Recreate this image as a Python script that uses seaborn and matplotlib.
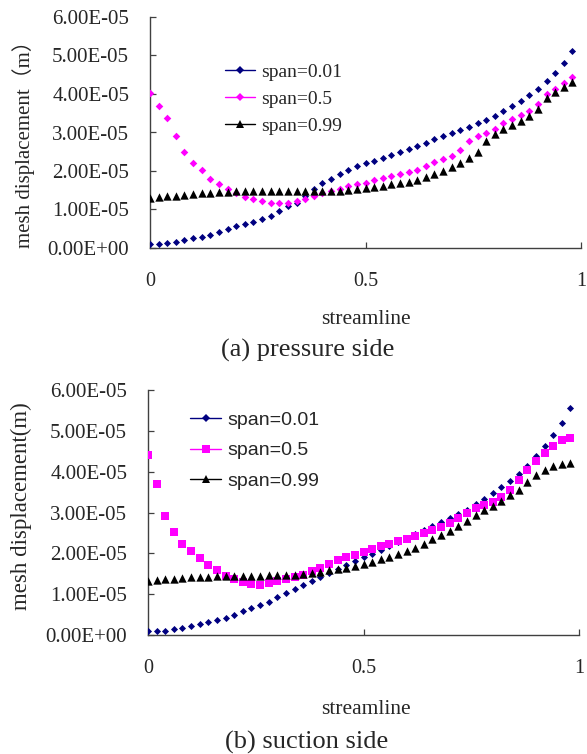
import matplotlib
matplotlib.use("Agg")
import matplotlib.pyplot as plt
import seaborn as sns
import pandas as pd
from matplotlib.lines import Line2D
from matplotlib.ticker import FuncFormatter

# ---------------- data (values in 1E-05 m) ----------------
x_pos = [0.00, 0.02, 0.04, 0.06, 0.08, 0.10, 0.12, 0.14, 0.16, 0.18,
         0.20, 0.22, 0.24, 0.26, 0.28, 0.30, 0.32, 0.34, 0.36, 0.38,
         0.40, 0.42, 0.44, 0.46, 0.48, 0.50, 0.52, 0.54, 0.56, 0.58,
         0.60, 0.62, 0.64, 0.66, 0.68, 0.70, 0.72, 0.74, 0.76, 0.78,
         0.80, 0.82, 0.84, 0.86, 0.88, 0.90, 0.92, 0.94, 0.96, 0.98]

ps_span001 = [0.10, 0.11, 0.13, 0.15, 0.20, 0.25, 0.29, 0.35, 0.42, 0.50,
              0.56, 0.62, 0.68, 0.76, 0.84, 0.95, 1.08, 1.18, 1.35, 1.52,
              1.68, 1.80, 1.92, 2.02, 2.12, 2.20, 2.27, 2.34, 2.42, 2.49,
              2.56, 2.64, 2.73, 2.82, 2.90, 2.98, 3.06, 3.15, 3.24, 3.33,
              3.44, 3.56, 3.68, 3.82, 3.97, 4.14, 4.33, 4.54, 4.80, 5.12]
ps_span05 = [4.03, 3.68, 3.38, 2.92, 2.50, 2.22, 2.02, 1.80, 1.66, 1.53,
             1.42, 1.33, 1.26, 1.21, 1.18, 1.16, 1.16, 1.22, 1.28, 1.35,
             1.42, 1.48, 1.54, 1.60, 1.65, 1.70, 1.76, 1.81, 1.86, 1.92,
             1.98, 2.03, 2.12, 2.24, 2.32, 2.40, 2.55, 2.78, 2.90, 2.98,
             3.10, 3.24, 3.36, 3.45, 3.55, 3.75, 4.00, 4.12, 4.28, 4.45]
ps_span099 = [1.30, 1.32, 1.34, 1.36, 1.38, 1.40, 1.42, 1.44, 1.45, 1.46,
              1.47, 1.47, 1.48, 1.48, 1.48, 1.48, 1.48, 1.48, 1.48, 1.48,
              1.49, 1.49, 1.49, 1.50, 1.52, 1.55, 1.58, 1.61, 1.65, 1.68,
              1.71, 1.76, 1.85, 1.92, 2.00, 2.10, 2.22, 2.35, 2.50, 2.78,
              2.95, 3.10, 3.20, 3.30, 3.42, 3.60, 3.90, 4.05, 4.18, 4.32]

ss_span001 = [0.10, 0.10, 0.11, 0.14, 0.18, 0.22, 0.26, 0.31, 0.36, 0.42,
              0.50, 0.58, 0.66, 0.74, 0.82, 0.92, 1.02, 1.12, 1.22, 1.32,
              1.42, 1.52, 1.62, 1.72, 1.81, 1.90, 1.99, 2.08, 2.18, 2.28,
              2.37, 2.47, 2.57, 2.66, 2.76, 2.86, 2.96, 3.07, 3.20, 3.33,
              3.47, 3.62, 3.77, 3.95, 4.15, 4.38, 4.62, 4.90, 5.20, 5.56]
ss_span05 = [4.41, 3.70, 2.92, 2.52, 2.22, 2.05, 1.88, 1.72, 1.58, 1.45,
             1.36, 1.30, 1.26, 1.23, 1.28, 1.33, 1.38, 1.42, 1.48, 1.56,
             1.64, 1.73, 1.83, 1.90, 1.97, 2.03, 2.10, 2.17, 2.24, 2.30,
             2.35, 2.42, 2.50, 2.57, 2.65, 2.75, 2.86, 2.99, 3.10, 3.18,
             3.26, 3.38, 3.55, 3.80, 4.05, 4.25, 4.46, 4.62, 4.78, 4.82]
ss_span099 = [1.32, 1.34, 1.36, 1.38, 1.40, 1.41, 1.42, 1.43, 1.44, 1.45,
              1.45, 1.45, 1.45, 1.45, 1.46, 1.46, 1.47, 1.48, 1.50, 1.52,
              1.55, 1.58, 1.61, 1.64, 1.68, 1.73, 1.78, 1.85, 1.92, 1.98,
              2.05, 2.12, 2.22, 2.35, 2.45, 2.55, 2.68, 2.80, 2.95, 3.05,
              3.17, 3.28, 3.42, 3.55, 3.75, 3.92, 4.05, 4.15, 4.20, 4.21]

series_labels = ["span=0.01", "span=0.5", "span=0.99"]
y_ticks = [0.0, 1e-5, 2e-5, 3e-5, 4e-5, 5e-5, 6e-5]
x_ticks = [0, 0.5, 1]
x_ticklabels = ["0", "0.5", "1"]

# ---------------- style ----------------
sns.set_style("ticks", {"xtick.direction": "in", "ytick.direction": "in"})
plt.rcParams["font.family"] = ["Liberation Serif", "Noto Sans CJK SC"]

SERIF = ["Liberation Serif", "Noto Sans CJK SC"]
colors = ["#000080", "#FF00FF", "#000000"]

fig = plt.figure(figsize=(5.87, 7.54), dpi=100)
W, H = 587, 754

def ax_rect(l, r, t, b):
    return [l / W, 1 - b / H, (r - l) / W, (b - t) / H]

ax1 = fig.add_axes(ax_rect(150, 581, 17, 248))
ax2 = fig.add_axes(ax_rect(148, 579, 390, 635))

def draw(ax, s1, s2, s3, markers, sizes):
    for vals, lab, col, mk, sz in zip([s1, s2, s3], series_labels, colors, markers, sizes):
        df = pd.DataFrame({"x": x_pos, "y": [v * 1e-5 for v in vals]})
        sns.scatterplot(data=df, x="x", y="y", ax=ax, color=col, marker=mk,
                        s=sz, linewidth=0, legend=False, zorder=3)
    ax.set_xlim(0, 1)
    ax.set_ylim(0, 6e-5)
    ax.set_xticks(x_ticks)
    ax.set_xticklabels(x_ticklabels)
    ax.set_yticks(y_ticks)
    ax.yaxis.set_major_formatter(FuncFormatter(lambda v, p: f"{v:.2E}"))
    ax.set_xlabel("")
    ax.set_ylabel("")
    for side in ["top", "right"]:
        ax.spines[side].set_visible(False)
    for side in ["left", "bottom"]:
        ax.spines[side].set_color("#404040")
        ax.spines[side].set_linewidth(1.0)
    ax.tick_params(axis="both", direction="in", length=4, width=0.9, color="#404040")
    ax.tick_params(axis="y", pad=15, labelsize=15)
    ax.tick_params(axis="x", pad=17, labelsize=14.5)
    for t in ax.get_xticklabels() + ax.get_yticklabels():
        t.set_family(SERIF)

draw(ax1, ps_span001, ps_span05, ps_span099, ["D", "D", "^"], [13, 15, 36])
draw(ax2, ss_span001, ss_span05, ss_span099, ["D", "s", "^"], [13, 30, 36])

# legends
def make_handles(markers, mss):
    return [Line2D([0], [0], color=c, marker=m, markersize=ms, lw=1.0,
                   markeredgewidth=0) for c, m, ms in zip(colors, markers, mss)]

leg1 = ax1.legend(make_handles(["D", "D", "^"], [3.6, 3.8, 6]), series_labels,
                  loc="upper left", bbox_to_anchor=(225 / W, 1 - 63 / H),
                  bbox_transform=fig.transFigure, frameon=False, borderpad=0,
                  borderaxespad=0, handlelength=1.55, handletextpad=0.3,
                  labelspacing=0.5, prop={"family": SERIF, "size": 14})
leg2 = ax2.legend(make_handles(["D", "s", "^"], [3.6, 5.5, 6]), series_labels,
                  loc="upper left", bbox_to_anchor=(190 / W, 1 - 411 / H),
                  bbox_transform=fig.transFigure, frameon=False, borderpad=0,
                  borderaxespad=0, handlelength=1.6, handletextpad=0.3,
                  labelspacing=0.68, prop={"family": ["Liberation Sans"], "size": 14})

# axis titles and captions
fig.text(24 / W, 1 - 139 / H, "mesh displacement（m）", rotation=90,
         ha="center", va="center", fontsize=15, family=SERIF)
fig.text(21 / W, 1 - 506 / H, "mesh displacement(m)", rotation=90,
         ha="center", va="center", fontsize=16.5, family=SERIF)
fig.text(366 / W, 1 - 320 / H, "streamline", ha="center", va="center",
         fontsize=15.5, family=SERIF)
fig.text(366 / W, 1 - 710 / H, "streamline", ha="center", va="center",
         fontsize=15.5, family=SERIF)
fig.text(308 / W, 1 - 350 / H, "(a) pressure side", ha="center", va="center",
         fontsize=19, family=SERIF)
fig.text(307 / W, 1 - 742 / H, "(b) suction side", ha="center", va="center",
         fontsize=19, family=SERIF)

fig.savefig("out.png", dpi=100)
